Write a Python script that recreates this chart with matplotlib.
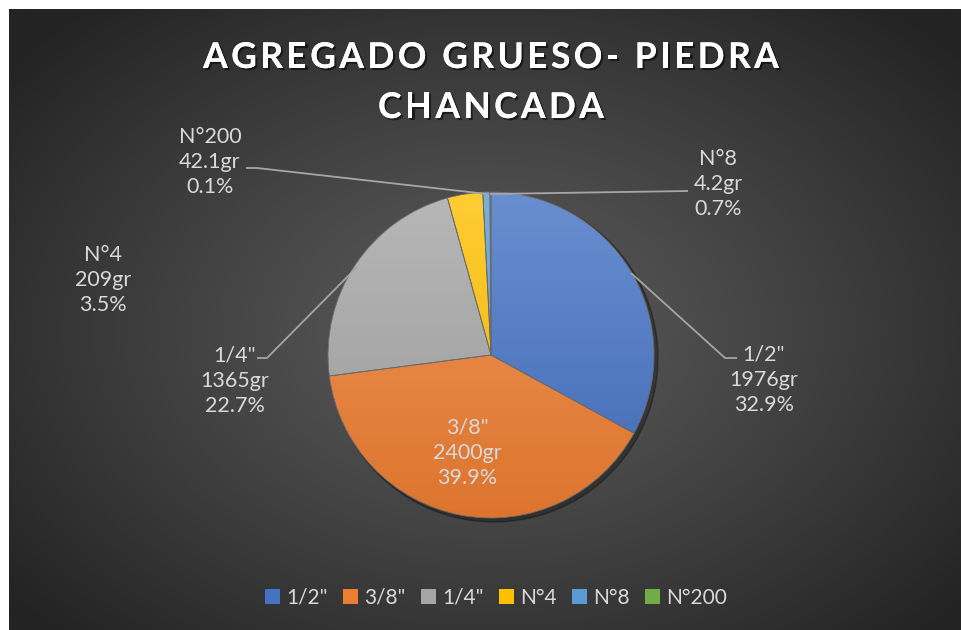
import matplotlib
matplotlib.use("Agg")
import matplotlib.pyplot as plt
import matplotlib.patheffects as pe
from matplotlib.patches import Patch
from matplotlib.colors import to_rgb
import numpy as np

categories = ['1/2"', '3/8"', '1/4"', 'N°4', 'N°8', 'N°200']
percents = [32.9, 39.9, 22.7, 3.5, 0.7, 0.1]
grams = ['1976gr', '2400gr', '1365gr', '209gr', '4.2gr', '42.1gr']
colors = ['#4472C4', '#ED7D31', '#A5A5A5', '#FFC000', '#5B9BD5', '#70AD47']
title_lines = ['AGREGADO GRUESO- PIEDRA', 'CHANCADA']

W, H = 962, 630
FONT = 'Lato'
TXT = '#d9d9d9'
LINE = '#a6a6a6'

# label centre (px, y from top) and leader line points
label_pos = [(764, 380), (467, 453), (235, 381), (103, 280), (718, 184), (210, 162)]
leaders = [
    [(631, 273), (725, 358), (737, 358)],
    None,
    [(357, 267), (267, 358), (257, 358)],
    None,
    [(490, 194), (688, 191)],
    [(487, 194), (257, 168), (246, 168)],
]


def Y(py):
    return H - py


fig = plt.figure(figsize=(W / 100, H / 100), dpi=100, facecolor='white')
ax = fig.add_axes([0, 0, 1, 1])
ax.set_axis_off()

# radial background
xs = np.linspace(9, W, 400)
ys = np.linspace(9, H, 300)
gx, gy = np.meshgrid(xs, ys)
d = np.sqrt(((gx - 490) / 620) ** 2 + ((gy - 330) / 430) ** 2)
d = np.clip(d, 0, 1) ** 1.1
c0 = np.array(to_rgb('#5c5c5c'))
c1 = np.array(to_rgb('#232323'))
bg = c0[None, None, :] * (1 - d[..., None]) + c1[None, None, :] * d[..., None]
ax.imshow(bg, extent=(9, W, Y(H), Y(9)), origin='upper', zorder=0, aspect='auto')

# pie
cx, cy, R = 491, Y(355), 163
shadow = plt.Circle((cx + 3, cy - 3), R + 1, color='black', alpha=0.3, zorder=1)
ax.add_patch(shadow)
wedges, _ = ax.pie(percents, colors=colors, startangle=90, counterclock=False,
                   center=(cx, cy), radius=R, frame=True,
                   wedgeprops=dict(linewidth=0.6, edgecolor='#6a6a6a'))
for w, c in zip(wedges, colors):
    base = np.array(to_rgb(c))
    top = base + (1 - base) * 0.2
    bot = base * 0.93
    t = np.linspace(0, 1, 256)[:, None, None]
    grad = top[None, None, :] * (1 - t) + bot[None, None, :] * t
    im = ax.imshow(grad, extent=(cx - R, cx + R, cy - R, cy + R), origin='upper',
                   zorder=2, aspect='auto')
    im.set_clip_path(w)
    w.set_facecolor('none')
    w.set_zorder(3)

# data labels
for i, (px, py) in enumerate(label_pos):
    s = f'{categories[i]}\n{grams[i]}\n{percents[i]}%'
    ax.text(px, Y(py), s, ha='center', va='center', multialignment='center',
            color=TXT, fontsize=15.5, family=FONT, linespacing=1.34, zorder=5)
    if leaders[i]:
        pts = leaders[i]
        ax.plot([p[0] for p in pts], [Y(p[1]) for p in pts], color=LINE, lw=1.3,
                zorder=4, solid_capstyle='butt')

# title with letter spacing
renderer = fig.canvas.get_renderer()
title_y = [58, 108]
tracking = 3.4
shadow_fx = [pe.withSimplePatchShadow(offset=(1.5, -1.5), shadow_rgbFace='black', alpha=0.55),
             pe.Normal()]
for line, ty in zip(title_lines, title_y):
    widths = []
    for ch in line:
        if ch == ' ':
            widths.append(9.0)
            continue
        t = ax.text(0, 0, ch, fontsize=25.5, family=FONT, weight='bold')
        widths.append(t.get_window_extent(renderer).width)
        t.remove()
    total = sum(widths) + tracking * (len(line) - 1)
    x = 491 - total / 2
    for ch, wd in zip(line, widths):
        if ch != ' ':
            ax.text(x, Y(ty), ch, fontsize=25.5, family=FONT, weight='bold', color='white',
                    ha='left', va='center', path_effects=shadow_fx, zorder=6)
        x += wd + tracking

ax.set_xlim(0, W)
ax.set_ylim(0, H)

handles = [Patch(facecolor=c, edgecolor='none') for c in colors]
leg = fig.legend(handles, categories, loc='center', bbox_to_anchor=(496 / W, 1 - 598 / H),
                 ncol=6, frameon=False, handlelength=0.7, handleheight=0.7,
                 handletextpad=0.3, columnspacing=0.75, prop={'family': FONT, 'size': 15})
for t in leg.get_texts():
    t.set_color(TXT)

fig.savefig('out.png', dpi=100, facecolor='white')
